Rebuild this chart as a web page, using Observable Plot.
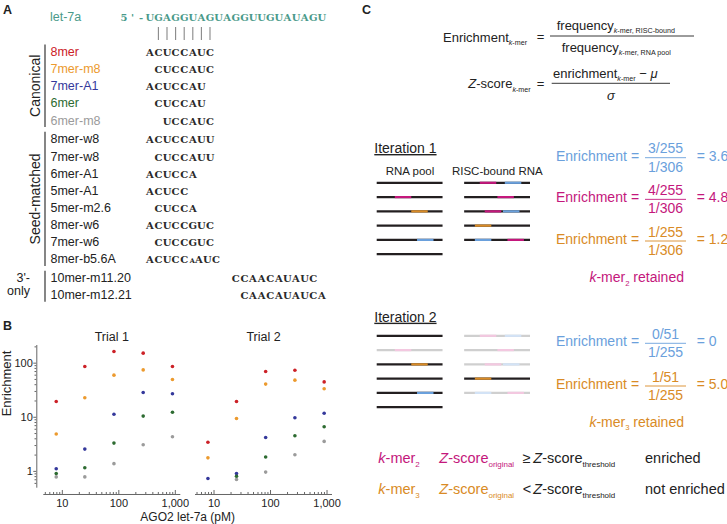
<!DOCTYPE html>
<html><head><meta charset="utf-8">
<script src="https://cdn.jsdelivr.net/npm/d3@7"></script>
<script src="https://cdn.jsdelivr.net/npm/@observablehq/plot@0.6"></script>
<style>
html,body{margin:0;padding:0;background:#fff;}
#root{position:relative;width:727px;height:524px;overflow:hidden;font-family:"Liberation Sans",Arial,Helvetica,sans-serif;}
#overlay{position:absolute;left:0;top:0;}
.abs{position:absolute;}
.abs svg{display:block;overflow:visible;max-width:none;}
text{white-space:pre;}
</style></head>
<body><div id="root">
<svg id="overlay" width="727" height="524"></svg>
<div id="panelB" class="abs" style="left:0;top:310px;width:345px;height:214px"></div>
<div id="iter1" class="abs" style="left:370px;top:175px;width:170px;height:86px"></div>
<div id="iter2" class="abs" style="left:370px;top:328px;width:170px;height:86px"></div>
</div>
<script>
// ================= DATA =================
// Panel B
const trials = ["Trial 1", "Trial 2"];
const concentrations = [7.8, 25, 82, 270, 890]; // AGO2 let-7a (pM)
const canonicalSites = ["8mer", "7mer-m8", "7mer-A1", "6mer", "6mer-m8"];
const trial1_8mer   = [19.6, 87, 164, 153, 87];
const trial1_7merm8 = [4.9, 22.9, 60, 75, 50];
const trial1_7merA1 = [1.12, 2.58, 11.4, 28.7, 27.2];
const trial1_6mer   = [0.91, 1.17, 3.33, 10.5, 12.4];
const trial1_6merm8 = [0.79, 0.79, 1.39, 3.1, 4.37];
const trial2_8mer   = [3.45, 19.6, 70, 74, 45];
const trial2_7merm8 = [1.78, 9.5, 41, 48.5, 33.6];
const trial2_7merA1 = [0.74, 0.91, 4.24, 9.8, 11.9];
const trial2_6mer   = [null, 0.81, 1.84, 4.56, 6.7];
const trial2_6merm8 = [null, 0.71, 0.97, 2.03, 3.58];
const yTicks = [1, 10, 100];
const xTicks = [10, 100, 1000];

// Panel A
const mirnaName = "let-7a";
const mirnaSeq = "5'-UGAGGUAGUAGGUUGUAUAGU";
const pairedPositions = [2, 3, 4, 5, 6, 7, 8];
const siteNames = ["8mer","7mer-m8","7mer-A1","6mer","6mer-m8","8mer-w8","7mer-w8","6mer-A1","5mer-A1","5mer-m2.6","8mer-w6","7mer-w6","8mer-b5.6A","10mer-m11.20","10mer-m12.21"];
const siteSeqs = ["ACUCCAUC","CUCCAUC","ACUCCAU","CUCCAU","UCCAUC","ACUCCAUU","CUCCAUU","ACUCCA","ACUCC","CUCCA","ACUCCGUC","CUCCGUC","ACUCC^AAUC","CCAACAUAUC","CAACAUAUCA"];
const siteFirstPos = [1,2,1,2,3,1,2,1,1,2,1,2,1,11,12]; // miRNA position opposite the site's first nt
const siteGroups = ["Canonical","Canonical","Canonical","Canonical","Canonical","Seed-matched","Seed-matched","Seed-matched","Seed-matched","Seed-matched","Seed-matched","Seed-matched","Seed-matched","3'-only","3'-only"];

// Panel C
const kmerNames = ["k-mer1", "k-mer2", "k-mer3"];
const readLength = 40, kmerLength = 10;
const poolReadCount = 6, boundReadCount = 5;
const poolSites = [{read: 2, kmer: "k-mer2", start: 11}, {read: 3, kmer: "k-mer3", start: 21}, {read: 5, kmer: "k-mer1", start: 24.5}];
const boundSites = [
  {read: 1, kmer: "k-mer2", start: 9.5}, {read: 1, kmer: "k-mer1", start: 24.7},
  {read: 2, kmer: "k-mer2", start: 20.2},
  {read: 3, kmer: "k-mer2", start: 12.5}, {read: 3, kmer: "k-mer1", start: 23.6},
  {read: 4, kmer: "k-mer3", start: 6.5},
  {read: 5, kmer: "k-mer1", start: 6.5}, {read: 5, kmer: "k-mer2", start: 26.3}
];
const iter1Kmers = ["k-mer1", "k-mer2", "k-mer3"];
const iter1Num = ["3/255", "4/255", "1/255"];
const iter1Den = ["1/306", "1/306", "1/306"];
const iter1Val = ["3.6", "4.8", "1.2"];
const iter1Retained = "k-mer2";
const iter2Kmers = ["k-mer1", "k-mer3"];
const iter2Num = ["0/51", "1/51"];
const iter2Den = ["1/255", "1/255"];
const iter2Val = ["0", "5.0"];
const iter2Retained = "k-mer3";

// ================= STYLE =================
const FONT = '"Liberation Sans", Arial, Helvetica, sans-serif';
const SERIF = '"DejaVu Serif", "Liberation Serif", serif';
const INK = "#222";
const AXIS = "#666";
const TEAL = "#4a9a8a";
const siteColors = ["#cc2127", "#ec9a2e", "#34389b", "#2d6b31", "#9b9b9b"];
const kmerColors = {"k-mer1": "#6aa0dc", "k-mer2": "#c4177c", "k-mer3": "#d98b26"};
const kmerFaded = {"k-mer1": "#d3e3f6", "k-mer2": "#f3c8e0", "k-mer3": "#f2ddb8"};
const READ = "#231f20", READ_FADED = "#cfcfcf";

// ================= OVERLAY TEXT (panels A, C) =================
const svg = d3.select("#overlay").attr("font-family", FONT);
function parse(str) {
  const parts = []; let cur = "", sub = false, it = false;
  const push = () => { if (cur) parts.push({t: cur, sub, i: it}); cur = ""; };
  for (let k = 0; k < str.length; k++) {
    const ch = str[k];
    if (ch === "_" && str[k + 1] === "{") { push(); sub = true; k++; continue; }
    if (ch === "}" && sub) { push(); sub = false; continue; }
    if (ch === "*") { push(); it = !it; continue; }
    cur += ch;
  }
  push(); return parts;
}
function rich(x, y, str, {size = 14, anchor = "start", color = INK, weight = null, subScale = 0.55, subShift = 0.25, deco = null} = {}) {
  const t = svg.append("text").attr("x", x).attr("y", y).attr("font-size", size).attr("fill", color).attr("text-anchor", anchor);
  if (weight) t.attr("font-weight", weight);
  if (deco) t.attr("text-decoration", deco);
  let cur = 0;
  for (const p of parse(str)) {
    const s = t.append("tspan").text(p.t);
    const want = p.sub ? size * subShift : 0;
    if (want !== cur) { s.attr("dy", want - cur); cur = want; }
    if (p.sub) s.attr("font-size", size * subScale);
    if (p.i) s.attr("font-style", "italic");
  }
  return t;
}
function hline(x1, x2, y, color = INK, w = 1) {
  svg.append("line").attr("x1", x1).attr("x2", x2).attr("y1", y).attr("y2", y).attr("stroke", color).attr("stroke-width", w);
}
function vline(x, y1, y2, color = INK, w = 1) {
  svg.append("line").attr("x1", x).attr("x2", x).attr("y1", y1).attr("y2", y2).attr("stroke", color).attr("stroke-width", w);
}

// ---- Panel A ----
rich(3, 13.5, "A", {size: 12.5, weight: "bold"});
rich(50, 21, mirnaName, {size: 12.5, color: TEAL});
const col = i => 124 + 8.6 * i;
function seqChars(chars, cols, y, color, size = 10) {
  svg.append("text").attr("y", y).attr("font-family", SERIF).attr("font-size", size).attr("font-weight", "bold")
    .attr("fill", color).attr("text-anchor", "middle").attr("x", cols.map(col).join(" ")).text(chars.join(""));
}
seqChars(Array.from(mirnaSeq), Array.from(mirnaSeq, (_, k) => k), 20.5, TEAL);
for (const p of pairedPositions) vline(col(p + 2), 27, 40, "#888", 1.1);

const groupOrder = [...new Set(siteGroups)];
const rowY = siteNames.map((_, i) => 56 + 17.15 * i + groupOrder.indexOf(siteGroups[i]) * 1.6);
siteNames.forEach((name, i) => {
  const ci = canonicalSites.indexOf(name);
  rich(50.5, rowY[i], name, {size: 12.5, color: ci >= 0 ? siteColors[ci] : INK});
  const start = siteFirstPos[i] + 2;
  const seq = siteSeqs[i];
  const b = seq.indexOf("^");
  if (b < 0) {
    seqChars(Array.from(seq), Array.from(seq, (_, k) => start + k), rowY[i], "#2a2a2a");
  } else {
    const before = seq.slice(0, b), bulge = seq[b + 1], after = seq.slice(b + 2);
    seqChars(Array.from(before), Array.from(before, (_, k) => start + k), rowY[i], "#2a2a2a");
    seqChars([bulge], [start + before.length - 0.05], rowY[i] - 0.5, "#2a2a2a", 6.5);
    seqChars(Array.from(after), Array.from(after, (_, k) => start + before.length + 0.7 + k), rowY[i], "#2a2a2a");
  }
});
for (const g of groupOrder) {
  const idx = siteGroups.map((s, i) => s === g ? i : -1).filter(i => i >= 0);
  const top = rowY[idx[0]] - 11.5, bot = rowY[idx[idx.length - 1]] + 2.5;
  vline(45, top, bot, INK, 1.1);
  if (g === "3'-only") {
    rich(30, rowY[idx[0]] - 0.5, "3'-", {size: 12.5, anchor: "end"});
    rich(30, rowY[idx[1]] - 4, "only", {size: 12.5, anchor: "end"});
  } else {
    svg.append("text").attr("transform", `translate(39.5,${(top + bot) / 2}) rotate(-90)`)
      .attr("text-anchor", "middle").attr("font-size", 14).attr("fill", INK).text(g);
  }
}

// ---- Panel B label ----
rich(3, 330, "B", {size: 12.5, weight: "bold"});

// ---- Panel C ----
rich(362, 13.5, "C", {size: 12.5, weight: "bold"});
rich(443, 41.5, "Enrichment_{*k*-mer}", {size: 13});
rich(540.5, 40.5, "=", {size: 13, anchor: "middle"});
rich(556.7, 29.5, "frequency_{*k*-mer, RISC-bound}", {size: 13});
hline(550, 694, 36, INK, 0.9);
rich(561.7, 51.5, "frequency_{*k*-mer, RNA pool}", {size: 13});
rich(468.3, 88.3, "*Z*-score_{*k*-mer}", {size: 13});
rich(540.5, 88, "=", {size: 13, anchor: "middle"});
rich(553, 78, "enrichment_{*k*-mer} − *μ*", {size: 13});
hline(551.7, 670, 83.3, INK, 0.9);
rich(611, 100, "*σ*", {size: 13, anchor: "middle"});

rich(374.3, 153, "Iteration 1", {size: 14, deco: "underline"});
rich(374.3, 321.7, "Iteration 2", {size: 14, deco: "underline"});
for (const base of [174.5]) {
  rich(410, base, "RNA pool", {size: 11.5, anchor: "middle"});
  rich(497.3, base, "RISC-bound RNA", {size: 11.5, anchor: "middle"});
}
function enrichRow(lineY, kmer, num, den, val) {
  const c = kmerColors[kmer];
  rich(556, lineY + 3, "Enrichment", {size: 14, color: c});
  rich(635, lineY + 3, "=", {size: 14, color: c, anchor: "middle"});
  rich(665.5, lineY - 4.5, num, {size: 14, color: c, anchor: "middle"});
  hline(645, 686, lineY, c, 0.9);
  rich(665.5, lineY + 14, den, {size: 14, color: c, anchor: "middle"});
  rich(696.7, lineY + 3, "= " + val, {size: 14, color: c});
}
iter1Kmers.forEach((k, i) => enrichRow(157.7 + 41.65 * i, k, iter1Num[i], iter1Den[i], iter1Val[i]));
iter2Kmers.forEach((k, i) => enrichRow(343.3 + 42.7 * i, k, iter2Num[i], iter2Den[i], iter2Val[i]));
const kmerLabel = k => "*k*-mer_{" + k.slice(5) + "}";
rich(636.7, 282, kmerLabel(iter1Retained) + " retained", {size: 14, color: kmerColors[iter1Retained], anchor: "middle"});
rich(636.7, 426.7, kmerLabel(iter2Retained) + " retained", {size: 14, color: kmerColors[iter2Retained], anchor: "middle"});

const verdicts = [{k: "k-mer2", op: "≥", text: "enriched"}, {k: "k-mer3", op: "<", text: "not enriched"}];
verdicts.forEach((v, i) => {
  const y = 463.3 + 30.7 * i, c = kmerColors[v.k];
  rich(378.3, y, kmerLabel(v.k), {size: 14.5, color: c});
  rich(439.3, y, "*Z*-score_{original}", {size: 14.5, color: c});
  rich(522.7, y, v.op, {size: 14.5});
  rich(533.3, y, "*Z*-score_{threshold}", {size: 14.5});
  rich(645, y, v.text, {size: 14.5});
});

// ================= PANEL B (Observable Plot) =================
const series = [
  [trial1_8mer, trial1_7merm8, trial1_7merA1, trial1_6mer, trial1_6merm8],
  [trial2_8mer, trial2_7merm8, trial2_7merA1, trial2_6mer, trial2_6merm8]
];
const panelBData = [];
trials.forEach((trial, ti) => canonicalSites.forEach((site, si) => series[ti][si].forEach((v, ci) => {
  if (v != null) panelBData.push({trial, site, conc: concentrations[ci], enrichment: v});
})));
const yDomain = [0.51, 212], xDomain = [4.7, 1200];
const yMinor = d3.range(-1, 3).flatMap(e => d3.range(2, 10).map(m => m * 10 ** e)).filter(v => v > yDomain[0] && v < yDomain[1]);
const xMinor = d3.range(0, 4).flatMap(e => d3.range(2, 10).map(m => m * 10 ** e)).filter(v => v >= xDomain[0] && v < xDomain[1]);
const frameH = 214 - 35 - 37.3;

const chartB = Plot.plot({
  width: 345, height: 214,
  marginTop: 35, marginRight: 14, marginBottom: 37.3, marginLeft: 43.3,
  style: {fontFamily: FONT, fontSize: "11px", color: INK, background: "transparent", overflow: "visible"},
  fx: {domain: trials, paddingInner: 0.1035, paddingOuter: 0, round: false, label: null},
  x: {type: "log", domain: xDomain, label: null},
  y: {type: "log", domain: yDomain, label: null},
  color: {domain: canonicalSites, range: siteColors},
  marks: [
    Plot.axisFx({anchor: "top", tickSize: 0, tickPadding: 5, fontSize: 12.5, label: null}),
    Plot.axisFx({anchor: "bottom", tickSize: 0, tickFormat: () => "", label: "AGO2 let-7a (pM)", labelAnchor: "center", labelOffset: 34, fontSize: 12}),
    Plot.frame({anchor: "left", dx: -7, facetAnchor: "left", stroke: AXIS}),
    Plot.axisY({anchor: "left", ticks: yTicks, tickFormat: d3.format(","), tickSize: 3, tickPadding: 1, dx: -7, stroke: AXIS, label: null, fontSize: 11}),
    Plot.axisY({anchor: "left", ticks: yMinor, tickFormat: () => "", tickSize: 1.8, dx: -7, stroke: AXIS, label: null}),
    Plot.text(["Enrichment"], {text: d => d, frameAnchor: "left", rotate: -90, lineAnchor: "top", dx: -41.6, fontSize: 13, facetAnchor: "left"}),
    Plot.frame({anchor: "bottom", dy: 7.3, stroke: AXIS}),
    Plot.tickX(xTicks, {x: d => d, dy: 7.3, insetTop: frameH - 4, stroke: AXIS}),
    Plot.tickX(xMinor, {x: d => d, dy: 7.3, insetTop: frameH - 2, stroke: AXIS}),
    Plot.axisX({anchor: "bottom", ticks: xTicks, tickFormat: d3.format(","), tickSize: 0, tickPadding: 12, label: null, fontSize: 11}),
    Plot.dot(panelBData, {fx: "trial", x: "conc", y: "enrichment", fill: "site", r: 1.8})
  ]
});
document.getElementById("panelB").append(chartB);

// ================= PANEL C read schematics (Observable Plot) =================
function readsPlot(removedKmers) {
  const hasRemoved = (sites, read) => sites.some(s => s.read === read && removedKmers.includes(s.kmer));
  const reads = [
    ...d3.range(1, poolReadCount + 1).map(r => ({group: "pool", read: r, removed: hasRemoved(poolSites, r)})),
    ...d3.range(1, boundReadCount + 1).map(r => ({group: "bound", read: r, removed: hasRemoved(boundSites, r)}))
  ];
  const sites = [
    ...poolSites.map(s => ({...s, group: "pool", removed: hasRemoved(poolSites, s.read)})),
    ...boundSites.map(s => ({...s, group: "bound", removed: hasRemoved(boundSites, s.read)}))
  ];
  return Plot.plot({
    width: 170, height: 86, marginTop: 7.3, marginBottom: 7.3, marginLeft: 6.7, marginRight: 10,
    style: {background: "transparent", overflow: "visible"},
    fx: {domain: ["pool", "bound"], paddingInner: 0.247, paddingOuter: 0, round: false, axis: null},
    x: {domain: [0, readLength], axis: null},
    y: {domain: [1, Math.max(poolReadCount, boundReadCount)], reverse: true, axis: null},
    marks: [
      Plot.ruleY(reads, {fx: "group", y: "read", x1: 0, x2: readLength, stroke: d => d.removed ? READ_FADED : READ, strokeWidth: 2.2}),
      Plot.ruleY(sites, {fx: "group", y: "read", x1: "start", x2: d => d.start + kmerLength, stroke: d => d.removed ? kmerFaded[d.kmer] : kmerColors[d.kmer], strokeWidth: 2.2})
    ]
  });
}
document.getElementById("iter1").append(readsPlot([]));
document.getElementById("iter2").append(readsPlot([iter1Retained]));
</script>
</body></html>
